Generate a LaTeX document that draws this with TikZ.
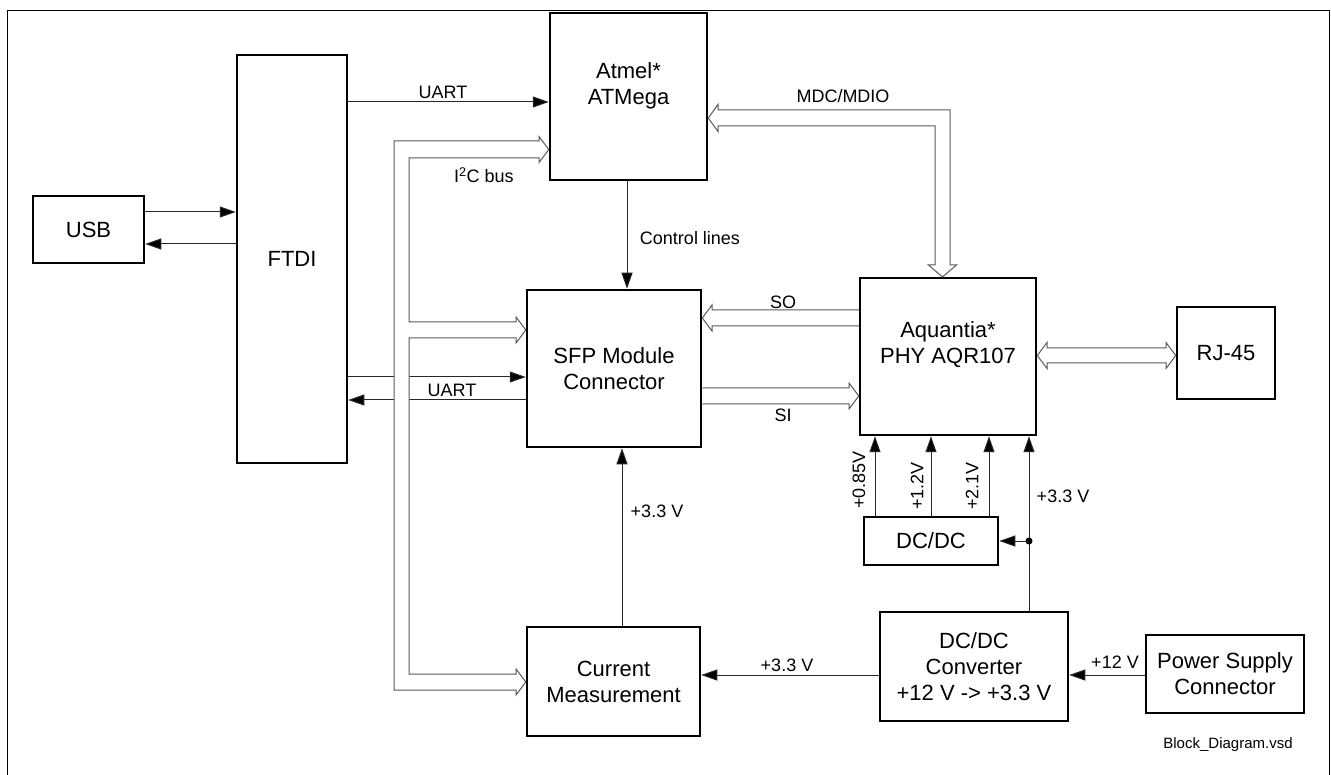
\documentclass[tikz,border=0pt]{standalone}
\usepackage{fontspec}
\setmainfont{Liberation Sans}
\usetikzlibrary{arrows.meta,calc}
\pgfdeclarelayer{bg}
\pgfsetlayers{bg,main}
\begin{document}
\begin{tikzpicture}[x=1pt,y=-1pt,
  box/.style={draw, line width=2.5pt, inner sep=0pt, align=center, font=\fontsize{22}{26}\selectfont},
  btxt/.style={inner sep=0pt, align=center, font=\fontsize{22}{26}\selectfont},
  lbl/.style={font=\fontsize{18}{21}\selectfont, inner sep=0pt},
  conn/.style={line width=1pt, draw=black!85, -{Triangle[length=16pt,width=11pt,fill=black]}},
  bus/.style={line width=1pt, draw=black!65, line join=miter},
]
\useasboundingbox (0,0) rectangle (1331,775);
% frame
\draw[line width=1pt] (7,775) -- (7,11) -- (1329,11) -- (1329,775);

% boxes
\node[box, minimum width=111pt, minimum height=67pt] (usb) at (88.5,229.5) {USB};
\node[box, minimum width=110pt, minimum height=408pt] (ftdi) at (292,259) {FTDI};
\node[box, minimum width=157pt, minimum height=167pt] (atmel) at (628.5,96.5) {};
\node[btxt] (atmeltxt) at (628.5,86) {Atmel*\\ATMega};
\node[box, minimum width=174pt, minimum height=157pt] (sfp) at (614,368.5) {SFP Module\\Connector};
\node[box, minimum width=173pt, minimum height=109pt] (cm) at (613.5,681.5) {Current\\Measurement};
\node[box, minimum width=176pt, minimum height=157pt] (aq) at (948,356.5) {};
\node[btxt] (aqtxt) at (948,345) {Aquantia*\\PHY AQR107};
\node[box, minimum width=98pt, minimum height=92pt] (rj) at (1226,353) {RJ-45};
\node[box, minimum width=134pt, minimum height=48pt] (dcdc) at (931,541) {DC/DC};
\node[box, minimum width=188pt, minimum height=109pt] (conv) at (974,666.5) {DC/DC\\Converter\\+12 V -> +3.3 V};
\node[box, minimum width=158pt, minimum height=78pt] (psc) at (1225,674) {Power Supply\\Connector};

\begin{pgfonlayer}{bg}
% USB <-> FTDI
\draw[conn] (usb.east |- 0,212) -- (ftdi.west |- 0,212);
\draw[conn] (ftdi.west |- 0,244) -- (usb.east |- 0,244);
% UART to Atmel
\draw[conn] (ftdi.east |- 0,102) -- (atmel.west |- 0,102);
% UART FTDI <-> SFP
\draw[conn] (ftdi.east |- 0,377) -- (sfp.west |- 0,377);
\draw[conn] (sfp.west |- 0,400) -- (ftdi.east |- 0,400);
% I2C bus (one closed outline, filled white so the UART lines pass under it)
\draw[bus, fill=white] (539,141) -- (394,141) -- (394,690) -- (516,690) -- (516,695)
  -- (cm.west |- 0,682) -- (516,669) -- (516,674) -- (409,674) -- (409,338)
  -- (516,338) -- (516,343) -- (sfp.west |- 0,330) -- (516,317) -- (516,322)
  -- (409,322) -- (409,158) -- (539,158) -- (539,162.5) -- (atmel.west |- 0,149.5)
  -- (539,136.5) -- cycle;
\end{pgfonlayer}

% MDC/MDIO bus
\draw[bus] (718,110) -- (950,110) -- (950,265) -- (956.5,265) -- (942.5,277)
  -- (928.5,265) -- (935,265) -- (935,126) -- (718,126) -- (718,131.5)
  -- (atmel.east |- 0,118) -- (718,104.5) -- cycle;
% SO bus
\draw[bus] (aq.west |- 0,310) -- (712,310) -- (712,305) -- (sfp.east |- 0,318)
  -- (712,331) -- (712,326) -- (aq.west |- 0,326);
% SI bus
\draw[bus] (sfp.east |- 0,388) -- (849,388) -- (849,383) -- (aq.west |- 0,396)
  -- (849,409) -- (849,404) -- (sfp.east |- 0,404);
% RJ-45 bus
\draw[bus] (aq.east |- 0,355.5) -- (1047,342.5) -- (1047,348) -- (1166,348) -- (1166,342.5)
  -- (rj.west |- 0,355.5) -- (1166,368.5) -- (1166,363) -- (1047,363) -- (1047,368.5) -- cycle;

% control lines
\draw[conn] (627,0 |- atmel.south) -- (627,0 |- sfp.north);
% power
\draw[conn] (622,0 |- cm.north) -- (622,0 |- sfp.south);
\draw[conn] (conv.west |- 0,675) -- (cm.east |- 0,675);
\draw[conn] (psc.west |- 0,675) -- (conv.east |- 0,675);
\draw[conn] (875,0 |- dcdc.north) -- (875,0 |- aq.south);
\draw[conn] (931,0 |- dcdc.north) -- (931,0 |- aq.south);
\draw[conn] (989,0 |- dcdc.north) -- (989,0 |- aq.south);
\draw[conn] (1029,0 |- conv.north) -- (1029,0 |- aq.south);
\coordinate (tap) at (1029,541);
\fill (tap) circle (3.5pt);
\draw[conn] (tap) -- (dcdc.east |- tap);

% labels
\node[lbl] (l1) at (443,92) {UART};
\node[lbl] (l2) at (484,175) {I\textsuperscript{2}C bus};
\node[lbl] (l3) at (452,390) {UART};
\node[lbl] (l4) at (690,238) {Control lines};
\node[lbl] (l5) at (843,96) {MDC/MDIO};
\node[lbl] (l6) at (783,302) {SO};
\node[lbl] (l7) at (783,415) {SI};
\node[lbl] (l8) at (657,511) {+3.3 V};
\node[lbl] (l9) at (787,665) {+3.3 V};
\node[lbl] (l10) at (1115,662) {+12 V};
\node[lbl] (l11) at (1063,496) {+3.3 V};
\node[lbl, rotate=90] (l12) at (859,480) {+0.85V};
\node[lbl, rotate=90] (l13) at (917,486) {+1.2V};
\node[lbl, rotate=90] (l14) at (972,486) {+2.1V};
\node[font=\fontsize{15}{18}\selectfont, inner sep=0pt] (fn) at (1228,745) {Block\_Diagram.vsd};
\end{tikzpicture}
\end{document}
